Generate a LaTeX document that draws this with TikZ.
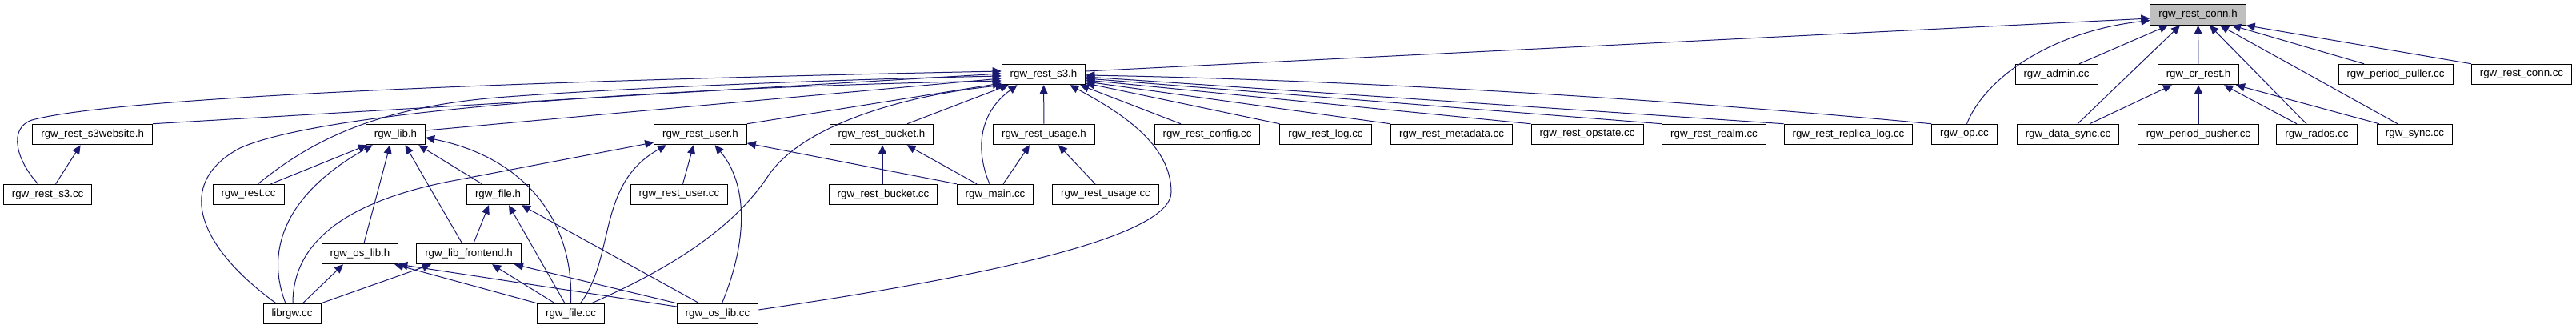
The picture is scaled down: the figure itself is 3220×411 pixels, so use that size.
\documentclass[tikz,border=0pt]{standalone}
\usepackage{fontspec}
\setmainfont{Liberation Sans}
\usetikzlibrary{arrows.meta}
\definecolor{edgeblue}{RGB}{25,25,112}
\definecolor{rootgray}{RGB}{191,191,191}

\begin{document}
\begin{tikzpicture}[
  x=1pt, y=-1pt,
  box/.style={draw=black, line width=1pt, fill=white, inner xsep=10.5pt, inner ysep=0pt, minimum height=25.5pt, font=\fontsize{13.3}{15}\selectfont},
  rootbox/.style={box, fill=rootgray},
  arr/.style={edgeblue, line width=1pt, -{Triangle[length=11pt,width=10pt]}}
]
\path[use as bounding box, fill=white] (0,0) rectangle (3220,411);

\node[rootbox] (conn) at (2747.5,18.5) {rgw\_rest\_conn.h};
\node[box] (s3h) at (1304.5,93) {rgw\_rest\_s3.h};
\node[box] (admin) at (2570.5,93) {rgw\_admin.cc};
\node[box] (crrest) at (2748,93) {rgw\_cr\_rest.h};
\node[box] (puller) at (2994.5,93) {rgw\_period\_puller.cc};
\node[box] (connsrc) at (3152,93) {rgw\_rest\_conn.cc};

\node[box] (s3web) at (115.7,168) {rgw\_rest\_s3website.h};
\node[box] (libh) at (494.5,168) {rgw\_lib.h};
\node[box] (userh) at (875.5,168) {rgw\_rest\_user.h};
\node[box] (bucketh) at (1102,168) {rgw\_rest\_bucket.h};
\node[box] (usageh) at (1305,168) {rgw\_rest\_usage.h};
\node[box] (config) at (1509,168) {rgw\_rest\_config.cc};
\node[box] (logcc) at (1657,168) {rgw\_rest\_log.cc};
\node[box] (metadata) at (1814.5,168) {rgw\_rest\_metadata.cc};
\node[box] (opstate) at (1984,168) {rgw\_rest\_opstate.cc};
\node[box] (realm) at (2142.5,168) {rgw\_rest\_realm.cc};
\node[box] (replica) at (2310.5,168) {rgw\_rest\_replica\_log.cc};
\node[box] (opcc) at (2455.5,168) {rgw\_op.cc};
\node[box] (datasync) at (2585,168) {rgw\_data\_sync.cc};
\node[box] (pusher) at (2748,168) {rgw\_period\_pusher.cc};
\node[box] (rados) at (2896,168) {rgw\_rados.cc};
\node[box] (synccc) at (3018.5,168) {rgw\_sync.cc};

\node[box] (s3cc) at (59.6,243) {rgw\_rest\_s3.cc};
\node[box] (restcc) at (310.5,243) {rgw\_rest.cc};
\node[box] (fileh) at (622.5,243) {rgw\_file.h};
\node[box] (usercc) at (849,243) {rgw\_rest\_user.cc};
\node[box] (bucketcc) at (1104,243) {rgw\_rest\_bucket.cc};
\node[box] (maincc) at (1244,243) {rgw\_main.cc};
\node[box] (usagecc) at (1382,243) {rgw\_rest\_usage.cc};

\node[box] (oslibh) at (450,317) {rgw\_os\_lib.h};
\node[box] (frontend) at (586,317) {rgw\_lib\_frontend.h};

\node[box] (librgw) at (365,392) {librgw.cc};
\node[box] (filecc) at (713.5,392) {rgw\_file.cc};
\node[box] (oslibcc) at (897,392) {rgw\_os\_lib.cc};

\draw[arr] ([yshift=4pt]s3h.east) -- ([yshift=-4.5pt]conn.west);
\draw[arr] ([xshift=3pt]opcc.north) .. controls (2480,100) and (2560,40) .. ([yshift=-7pt]conn.west);
\draw[arr] ([xshift=28.5pt]admin.north) -- ([xshift=-37.5pt]conn.south);
\draw[arr] ([xshift=12pt]datasync.north) -- ([xshift=-22.5pt]conn.south);
\draw[arr] (crrest) -- (conn);
\draw[arr] ([xshift=-13pt]rados.north) -- ([xshift=14.5pt]conn.south);
\draw[arr] ([xshift=-21.5pt]synccc.north) -- ([xshift=27.5pt]conn.south);
\draw[arr] ([xshift=-39.5pt]puller.north) -- ([xshift=42.5pt]conn.south);
\draw[arr] (connsrc.north west) -- (conn.south east);

\draw[arr] ([xshift=27pt]datasync.north) -- ([xshift=-33pt]crrest.south);
\draw[arr] (pusher) -- (crrest);
\draw[arr] ([xshift=-25pt]rados.north) -- ([xshift=32pt]crrest.south);
\draw[arr] ([xshift=-44.5pt]synccc.north) -- ([xshift=47pt]crrest.south);

\draw[arr] ([xshift=-12pt]s3cc.north) .. controls (20,200) and (10,160) .. (40,150) .. controls (150,120) and (700,100) .. ([yshift=4pt]s3h.west);
\draw[arr] (s3web.north east) -- ([yshift=1pt]s3h.west);
\draw[arr] ([xshift=12pt]restcc.north) .. controls (390,175) and (470,135) .. (620,122) .. controls (800,108) and (1100,98) .. ([yshift=-2pt]s3h.west);
\draw[arr] ([yshift=5pt]libh.east) -- ([yshift=-5pt]s3h.west);
\draw[arr] ([xshift=-20pt]librgw.north) .. controls (250,310) and (215,230) .. (300,185) .. controls (400,140) and (800,110) .. ([yshift=-8pt]s3h.west);
\draw[arr] (userh.north east) -- ([yshift=-11pt]s3h.west);
\draw[arr] ([xshift=26pt]filecc.north) .. controls (850,330) and (920,280) .. (960,220) .. controls (1000,160) and (1120,120) .. ([xshift=4pt]s3h.south west);
\draw[arr] ([xshift=32pt]bucketh.north) -- ([xshift=9pt]s3h.south west);
\draw[arr] ([xshift=-7pt]maincc.north) .. controls (1218,185) and (1225,140) .. ([xshift=20pt]s3h.south west);
\draw[arr] (usageh) -- (s3h);
\draw[arr] ([yshift=5pt]oslibcc.east) .. controls (1200,350) and (1464,300) .. (1464,240) .. controls (1464,180) and (1400,140) .. ([xshift=-20pt]s3h.south east);
\draw[arr] ([xshift=-33pt]config.north) -- ([xshift=-7pt]s3h.south east);
\draw[arr] (logcc.north west) -- ([yshift=-11pt]s3h.east);
\draw[arr] (metadata.north west) -- ([yshift=-9pt]s3h.east);
\draw[arr] (opstate.north west) -- ([yshift=-7pt]s3h.east);
\draw[arr] (realm.north west) -- ([yshift=-5pt]s3h.east);
\draw[arr] (replica.north west) -- ([yshift=-3pt]s3h.east);
\draw[arr] (opcc.north west) .. controls (2100,125) and (1700,100) .. ([yshift=-1pt]s3h.east);

\draw[arr] ([xshift=10pt]s3cc.north) -- ([xshift=-15pt]s3web.south);
\draw[arr] ([xshift=28pt]restcc.north) -- ([xshift=2pt]libh.south west);
\draw[arr] ([xshift=-8pt]librgw.north) .. controls (330,310) and (360,240) .. ([xshift=9pt]libh.south west);
\draw[arr] ([xshift=5pt]oslibh.north) -- ([xshift=-7pt]libh.south);
\draw[arr] ([xshift=-8.5pt]frontend.north) -- ([xshift=12pt]libh.south);
\draw[arr] ([xshift=-20pt]fileh.north) -- ([xshift=-9pt]libh.south east);
\draw[arr] (filecc.north) .. controls (718,270) and (650,195) .. ([yshift=-4pt]libh.east);
\draw[arr] ([xshift=1pt]librgw.north) .. controls (366,310) and (420,255) .. (560,227) -- ([yshift=-10pt]userh.west);
\draw[arr] ([xshift=6pt]frontend.north) -- ([xshift=-11.5pt]fileh.south);
\draw[arr] ([xshift=-7.5pt]filecc.north) -- ([xshift=13.5pt]fileh.south);
\draw[arr] ([xshift=-23pt]oslibcc.north) -- ([xshift=-10pt]fileh.south east);
\draw[arr] (librgw.north east) -- ([xshift=-47pt]frontend.south);
\draw[arr] ([xshift=-20pt]filecc.north) -- ([xshift=29pt]frontend.south);
\draw[arr] (oslibcc.north west) -- ([xshift=57pt]frontend.south);
\draw[arr] ([xshift=13.5pt]librgw.north) -- ([xshift=-21pt]oslibh.south);
\draw[arr] (filecc.north west) -- ([xshift=-5pt]oslibh.south east);
\draw[arr] ([yshift=9pt]oslibcc.west) -- (oslibh.south east);
\draw[arr] ([xshift=4.5pt]usercc.north) -- ([xshift=-8.5pt]userh.south);
\draw[arr] ([xshift=12pt]filecc.north) .. controls (770,320) and (745,230) .. ([xshift=-42.5pt]userh.south);
\draw[arr] ([xshift=5.5pt]oslibcc.north) .. controls (935,300) and (935,230) .. ([xshift=18pt]userh.south);
\draw[arr] (maincc.north west) -- ([yshift=-11pt]userh.east);
\draw[arr] ([xshift=-1pt]bucketcc.north) -- ([xshift=1pt]bucketh.south);
\draw[arr] ([xshift=-23pt]maincc.north) -- ([xshift=31.5pt]bucketh.south);
\draw[arr] ([xshift=10pt]maincc.north) -- ([xshift=-18pt]usageh.south);
\draw[arr] ([xshift=-13pt]usagecc.north) -- ([xshift=18pt]usageh.south);
\end{tikzpicture}
\end{document}
